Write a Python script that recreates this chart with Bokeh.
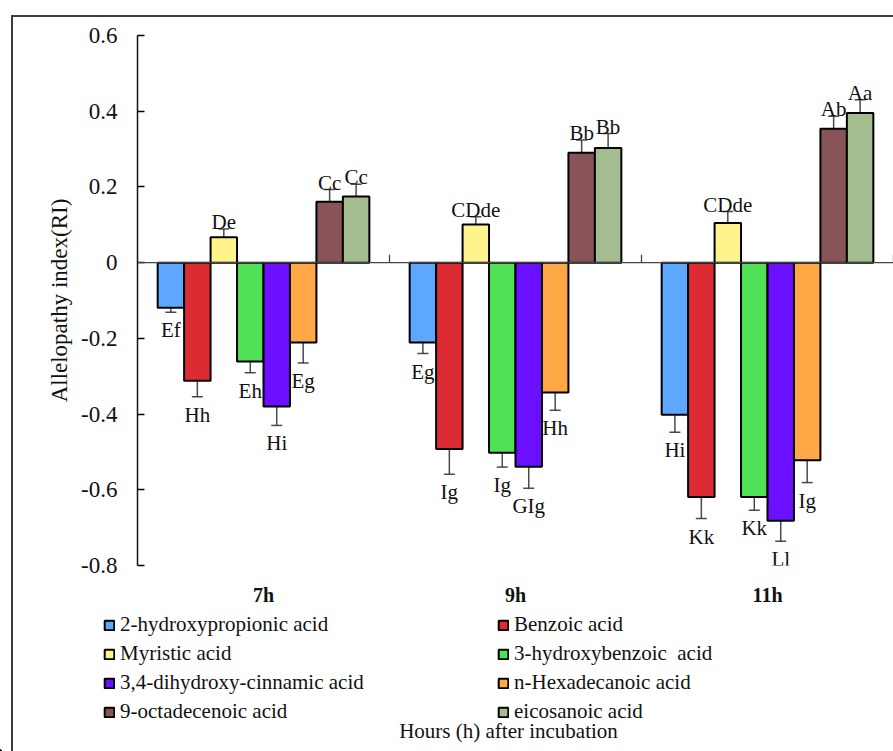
from bokeh.plotting import figure
from bokeh.models import (FactorRange, Range1d, FixedTicker, Span, Whisker, TeeHead, Legend,
                          LegendItem, ColumnDataSource, Label, InlineStyleSheet,
                          CustomJSTickFormatter)
from bokeh.transform import dodge
from bokeh.core.properties import value
from bokeh.embed import file_html
from bokeh.resources import INLINE

# ---------------- data ----------------
GROUPS = ["7h", "9h", "11h"]
SERIES = ["2-hydroxypropionic acid", "Benzoic acid", "Myristic acid", "3-hydroxybenzoic  acid",
          "3,4-dihydroxy-cinnamic acid", "n-Hexadecanoic acid", "9-octadecenoic acid",
          "eicosanoic acid"]
COLORS = ["#5EA7FF", "#DC2B33", "#FFF48B", "#50E156", "#6A0FFF", "#FFA845", "#885458", "#A3BD90"]

hydroxypropionic = [-0.119, -0.211, -0.402]
benzoic = [-0.312, -0.492, -0.619]
myristic = [0.067, 0.101, 0.105]
hydroxybenzoic = [-0.261, -0.502, -0.619]
dihydroxycinnamic = [-0.380, -0.539, -0.682]
hexadecanoic = [-0.211, -0.343, -0.522]
octadecenoic = [0.161, 0.290, 0.354]
eicosanoic = [0.175, 0.303, 0.395]

hydroxypropionic_err = [0.012, 0.029, 0.046]
benzoic_err = [0.042, 0.067, 0.057]
myristic_err = [0.022, 0.020, 0.030]
hydroxybenzoic_err = [0.030, 0.038, 0.035]
dihydroxycinnamic_err = [0.050, 0.057, 0.054]
hexadecanoic_err = [0.054, 0.047, 0.059]
octadecenoic_err = [0.032, 0.034, 0.033]
eicosanoic_err = [0.032, 0.038, 0.035]

hydroxypropionic_lbl = ["Ef", "Eg", "Hi"]
benzoic_lbl = ["Hh", "Ig", "Kk"]
myristic_lbl = ["De", "CDde", "CDde"]
hydroxybenzoic_lbl = ["Eh", "Ig", "Kk"]
dihydroxycinnamic_lbl = ["Hi", "GIg", "Ll"]
hexadecanoic_lbl = ["Eg", "Hh", "Ig"]
octadecenoic_lbl = ["Cc", "Bb", "Ab"]
eicosanoic_lbl = ["Cc", "Bb", "Aa"]

YTICKS = [-0.8, -0.6, -0.4, -0.2, 0.0, 0.2, 0.4, 0.6]
YTICK_LABELS = ["-0.8", "-0.6", "-0.4", "-0.2", "0", "0.2", "0.4", "0.6"]
X_TITLE = "Hours (h) after incubation"
Y_TITLE = "Allelopathy index(RI)"

VALUES = [hydroxypropionic, benzoic, myristic, hydroxybenzoic, dihydroxycinnamic,
          hexadecanoic, octadecenoic, eicosanoic]
ERRORS = [hydroxypropionic_err, benzoic_err, myristic_err, hydroxybenzoic_err,
          dihydroxycinnamic_err, hexadecanoic_err, octadecenoic_err, eicosanoic_err]
LABELS = [hydroxypropionic_lbl, benzoic_lbl, myristic_lbl, hydroxybenzoic_lbl,
          dihydroxycinnamic_lbl, hexadecanoic_lbl, octadecenoic_lbl, eicosanoic_lbl]

# ---------------- main figure ----------------
SERIF = "Liberation Serif"
INK = "#111111"
W = 893
H_MAIN = 610
H_LEG = 141
FRAME_TOP, FRAME_H = 35, 530

p = figure(x_range=FactorRange(factors=GROUPS, range_padding=0),
           y_range=Range1d(YTICKS[0], YTICKS[-1]),
           width=W, height=H_MAIN, output_backend="svg", toolbar_location=None,
           title=None, min_border_left=137, min_border_right=0,
           min_border_top=FRAME_TOP, min_border_bottom=H_MAIN - FRAME_TOP - FRAME_H)
p.outline_line_color = None
p.xgrid.visible = False
p.ygrid.visible = False
p.background_fill_color = "white"
p.border_fill_color = "white"

n = len(SERIES)
bar_w = 0.84 / n
offsets = [-0.42 + bar_w / 2 + bar_w * i for i in range(n)]

for i in range(n):
    vals, errs, lbls = VALUES[i], ERRORS[i], LABELS[i]
    upper = [v + e for v, e in zip(vals, errs)]
    lower = [v - e for v, e in zip(vals, errs)]
    ly = [u if v >= 0 else l for v, u, l in zip(vals, upper, lower)]
    base = ["alphabetic" if v >= 0 else "top" for v in vals]
    yoff = [-7 if v >= 0 else 6 for v in vals]
    src = ColumnDataSource(dict(group=GROUPS, val=vals, upper=upper, lower=lower,
                                label=lbls, ly=ly, base=base, yoff=yoff))
    p.vbar(x=dodge("group", offsets[i], range=p.x_range), top="val", bottom=0,
           width=bar_w, source=src, fill_color=COLORS[i], line_color="black", line_width=2)
    head_kw = dict(size=11, line_color="#2a2a2a", line_width=1.5, line_alpha=0.85)
    w = Whisker(base=dodge("group", offsets[i], range=p.x_range), upper="upper",
                lower="lower", source=src, line_color="#2a2a2a", line_width=1.5,
                line_alpha=0.85, upper_head=TeeHead(**head_kw), lower_head=TeeHead(**head_kw))
    p.add_layout(w)
    p.text(x=dodge("group", offsets[i], range=p.x_range), y="ly", text="label", source=src,
           text_font=value(SERIF), text_font_size="21px", text_align="center",
           text_baseline="base", y_offset="yoff", text_color=INK)

# zero line and group separator ticks
p.add_layout(Span(location=0, dimension="width", line_color="#444444", line_width=1.3))
tick_len = 8 * (YTICKS[-1] - YTICKS[0]) / FRAME_H
bounds = list(range(1, len(GROUPS) + 1))
p.segment(x0=bounds, x1=bounds, y0=[0] * len(bounds), y1=[tick_len] * len(bounds),
          line_color="#444444", line_width=1.3)

# y axis
ya = p.yaxis[0]
ya.ticker = FixedTicker(ticks=YTICKS)
ya.formatter = CustomJSTickFormatter(
    args=dict(tvals=YTICKS, tlabels=YTICK_LABELS),
    code="""
        for (let k = 0; k < tvals.length; k++) {
            if (Math.abs(tvals[k] - tick) < 1e-9) { return tlabels[k]; }
        }
        return String(tick);
    """)
ya.major_label_text_font = SERIF
ya.major_label_text_font_style = "normal"
ya.major_label_text_font_size = "23px"
ya.major_label_text_color = INK
ya.major_tick_in = 7
ya.major_tick_out = 0
ya.minor_tick_line_color = None
ya.major_label_standoff = 20
ya.axis_line_color = INK
ya.axis_line_width = 1.5
ya.major_tick_line_width = 1.5
ya.axis_label = Y_TITLE
ya.axis_label_text_font = SERIF
ya.axis_label_text_font_style = "normal"
ya.axis_label_text_font_size = "23px"
ya.axis_label_standoff = 6
ya.axis_label_text_color = INK

# x axis (category labels only)
xa = p.xaxis[0]
xa.axis_line_color = None
xa.major_tick_line_color = None
xa.major_tick_in = 0
xa.major_tick_out = 0
xa.major_label_standoff = 18
xa.major_label_text_font = SERIF
xa.major_label_text_font_style = "bold"
xa.major_label_text_font_size = "20px"
xa.major_label_text_color = INK

p.stylesheets = [InlineStyleSheet(css="""
:host { position: relative; }
:host::after {
  content: ""; position: absolute; left: 11px; top: 15px; right: 0px; bottom: 0px;
  border-left: 2px solid #3c3c3c; border-top: 2px solid #3c3c3c;
  pointer-events: none; z-index: 100;
}
""")]

# ---------------- legend strip (separate root, full-width frame) ----------------
q = figure(x_range=Range1d(0, W), y_range=Range1d(0, H_LEG), width=W, height=H_LEG,
           output_backend="svg", toolbar_location=None, title=None,
           x_axis_type=None, y_axis_type=None,
           min_border_left=0, min_border_right=0, min_border_top=0, min_border_bottom=0)
q.outline_line_color = None
q.xgrid.visible = False
q.ygrid.visible = False
q.background_fill_color = "white"
q.border_fill_color = "white"

# legend swatches: off-range bar renderers carrying each series' style
proxies = [q.vbar(x=[-W], top=[1], bottom=[0], width=1, fill_color=COLORS[i],
                  line_color="black", line_width=2) for i in range(n)]

leg_kw = dict(label_text_font=SERIF, label_text_font_size="21px", label_text_color=INK,
              glyph_width=12, glyph_height=12, label_standoff=5, spacing=4, label_height=23,
              padding=0, margin=0, border_line_color=None, background_fill_alpha=0)
leg1 = Legend(items=[LegendItem(label=SERIES[i], renderers=[proxies[i]]) for i in range(0, n, 2)],
              location=(103, 27), **leg_kw)
leg2 = Legend(items=[LegendItem(label=SERIES[i], renderers=[proxies[i]]) for i in range(1, n, 2)],
              location=(497, 27), **leg_kw)
q.add_layout(leg1)
q.add_layout(leg2)

q.add_layout(Label(x=508, y=21, x_units="screen", y_units="screen", text=X_TITLE,
                   text_align="center", text_baseline="middle", text_font=SERIF,
                   text_font_size="21px", text_color=INK))

q.stylesheets = [InlineStyleSheet(css="""
:host { position: relative; }
:host::after {
  content: ""; position: absolute; left: 11px; top: 0px; right: 0px; bottom: 0px;
  border-left: 2px solid #3c3c3c;
  pointer-events: none; z-index: 100;
}
""")]

open("out.html", "w").write(file_html([p, q], INLINE))
